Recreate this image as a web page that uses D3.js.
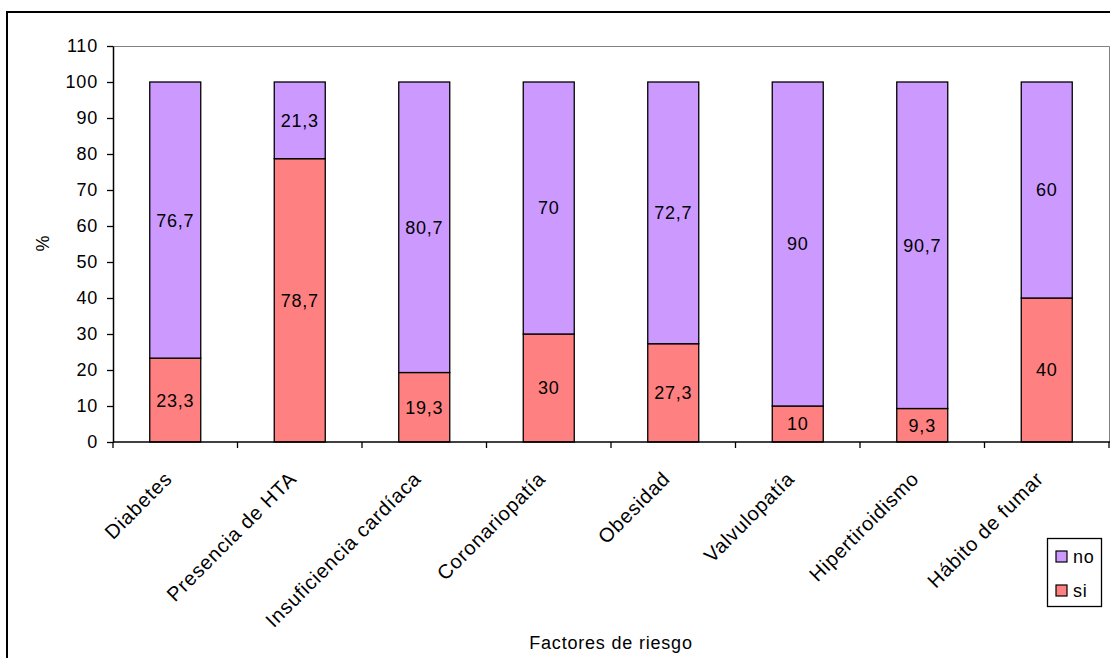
<!DOCTYPE html>
<html>
<head>
<meta charset="utf-8">
<script src="https://cdn.jsdelivr.net/npm/d3@7"></script>
<style>
  body { margin: 0; background: #fff; }
  text { font-family: "Liberation Sans", Arial, sans-serif; font-size: 18px; letter-spacing: 0.8px; fill: #000; }
</style>
</head>
<body>
<svg id="chart" width="1110" height="658"></svg>
<script>
// categories and series
var categories = ['Diabetes', 'Presencia de HTA', 'Insuficiencia cardíaca', 'Coronariopatía',
                  'Obesidad', 'Valvulopatía', 'Hipertiroidismo', 'Hábito de fumar'];
var siValues = [23.3, 78.7, 19.3, 30, 27.3, 10, 9.3, 40];
var noValues = [76.7, 21.3, 80.7, 70, 72.7, 90, 90.7, 60];
var yTicks = [0, 10, 20, 30, 40, 50, 60, 70, 80, 90, 100, 110];
var seriesNames = ['no', 'si'];
var seriesColors = {si: '#ff8080', no: '#cc99ff'};

var plot = {left: 113, top: 46, right: 1109, bottom: 442};

var svg = d3.select('#chart');

// outer chart border (runs off the right and bottom edge)
svg.append('rect')
   .attr('x', 7).attr('y', 12)
   .attr('width', 1120).attr('height', 670)
   .attr('fill', 'none')
   .attr('stroke', '#000')
   .attr('stroke-width', 2);

var x = d3.scaleBand()
          .domain(categories)
          .range([plot.left, plot.right]);

var y = d3.scaleLinear()
          .domain([0, 110])
          .range([plot.bottom, plot.top]);

// plot area frame, top and right in grey
svg.append('path')
   .attr('d', 'M' + plot.left + ',' + (plot.top + 0.5) + 'H' + (plot.right + 0.5) + 'V' + plot.bottom)
   .attr('fill', 'none')
   .attr('stroke', '#808080')
   .attr('stroke-width', 1);

// stack the data
var rows = categories.map((c, i) => ({cat: c, si: siValues[i], no: noValues[i]}));
var stacked = d3.stack().keys(['si', 'no'])(rows);

var barW = 51;

var groups = svg.selectAll('g.series')
   .data(stacked)
   .enter()
   .append('g')
   .attr('class', 'series')
   .attr('fill', (s) => seriesColors[s.key]);

groups.selectAll('rect')
   .data((s) => s)
   .enter()
   .append('rect')
   .attr('x', (d) => x(d.data.cat) + x.bandwidth() / 2 - barW / 2)
   .attr('y', (d) => y(d[1]))
   .attr('width', barW)
   .attr('height', (d) => y(d[0]) - y(d[1]))
   .attr('stroke', '#000')
   .attr('stroke-width', 1.3);

// value labels inside the segments
groups.selectAll('text')
   .data((s) => s.map((d) => ({d: d, key: s.key})))
   .enter()
   .append('text')
   .attr('x', (o) => x(o.d.data.cat) + x.bandwidth() / 2)
   .attr('y', (o) => y((o.d[0] + o.d[1]) / 2))
   .attr('dy', '0.36em')
   .attr('text-anchor', 'middle')
   .style('fill', '#000')
   .text((o) => String(o.d.data[o.key]).replace('.', ','));

// y axis
var yAxis = svg.append('g')
   .attr('transform', 'translate(' + plot.left + ',0)')
   .call(d3.axisLeft(y).tickValues(yTicks).tickSize(6).tickPadding(9).tickSizeOuter(0));
yAxis.select('.domain').attr('stroke', '#000').attr('stroke-width', 1.5);
yAxis.selectAll('.tick line').attr('stroke', '#000').attr('stroke-width', 1.3);
yAxis.selectAll('text').style('font-family', '"Liberation Sans", Arial, sans-serif').style('font-size', '18px');

// x axis line and boundary ticks
var xAxis = svg.append('g');
xAxis.append('line')
   .attr('x1', plot.left).attr('x2', plot.right + 1)
   .attr('y1', plot.bottom).attr('y2', plot.bottom)
   .attr('stroke', '#000').attr('stroke-width', 1.5);
var bounds = categories.map((c) => x(c)).concat([plot.right]);
xAxis.selectAll('line.tk')
   .data(bounds)
   .enter()
   .append('line')
   .attr('class', 'tk')
   .attr('x1', (d) => d).attr('x2', (d) => d)
   .attr('y1', plot.bottom).attr('y2', plot.bottom + 6)
   .attr('stroke', '#000').attr('stroke-width', 1.3);

xAxis.selectAll('text')
   .data(categories)
   .enter()
   .append('text')
   .attr('transform', (c) => 'translate(' + (x(c) + x.bandwidth() / 2 - 12) + ',' + (plot.bottom + 28) + ') rotate(-45)')
   .attr('text-anchor', 'end')
   .attr('dy', '0.71em')
   .style('font-size', '20px')
   .text((c) => c);

// axis titles
svg.append('text')
   .attr('transform', 'translate(43,243) rotate(-90)')
   .attr('text-anchor', 'middle')
   .attr('dy', '0.35em')
   .text('%');

svg.append('text')
   .attr('x', 611)
   .attr('y', 649)
   .attr('text-anchor', 'middle')
   .text('Factores de riesgo');

// legend
var legend = svg.append('g');
legend.append('rect')
   .attr('x', 1047.5).attr('y', 538.5)
   .attr('width', 54).attr('height', 68)
   .attr('fill', '#fff')
   .attr('stroke', '#000')
   .attr('stroke-width', 1.3);

var items = legend.selectAll('g.item')
   .data(seriesNames)
   .enter()
   .append('g')
   .attr('class', 'item')
   .attr('transform', (k, i) => 'translate(1056,' + (551 + i * 34) + ')');

items.append('rect')
   .attr('width', 11).attr('height', 11)
   .attr('fill', (k) => seriesColors[k])
   .attr('stroke', '#000')
   .attr('stroke-width', 1.2);

items.append('text')
   .attr('x', 17)
   .attr('y', 6)
   .attr('dy', '0.36em')
   .text((k) => k);
</script>
</body>
</html>
